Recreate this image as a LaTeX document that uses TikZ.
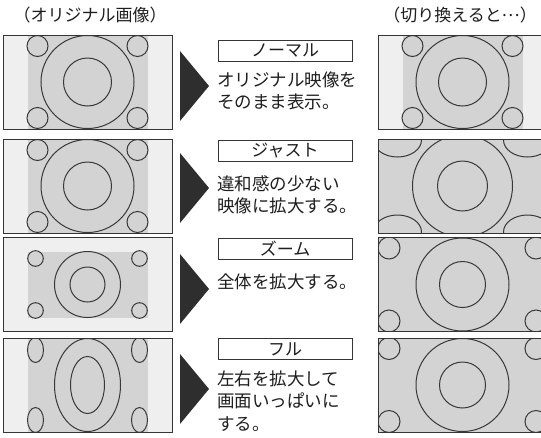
\documentclass[tikz,border=0pt]{standalone}
\usepackage{fontspec}
\setmainfont{Noto Sans CJK JP}
\definecolor{frameC}{HTML}{353535}
\definecolor{lineC}{HTML}{383838}
\definecolor{barC}{HTML}{EFEFEF}
\definecolor{grayC}{HTML}{D3D3D3}
\definecolor{arrowC}{HTML}{2E2E2E}
\definecolor{textC}{HTML}{1E1E1E}
% panel contents, relative to panel centre; half size 84.5 x 47
\newcommand\bgBars{\fill[barC] (-84.5,-47) rectangle (84.5,47);}
\newcommand\bgFull{\fill[grayC] (-84.5,-47) rectangle (84.5,47);}
\newcommand\contentNormal{%
  \bgBars
  \fill[grayC] (-60,-47) rectangle (60,47);
  \draw[shp] (0,0) circle[radius=46.5];
  \draw[shp] (0,0) circle[radius=24];
  \foreach \sx in {-1,1}{\foreach \sy in {-1,1}{
    \draw[shp] (\sx*50,\sy*36) circle[radius=10.5];}}}
\newcommand\contentLetter{%
  \bgBars
  \fill[grayC] (-60,-33) rectangle (60,33);
  \draw[shp] (0,0) circle[radius=33];
  \draw[shp] (0,0) circle[radius=17.5];
  \foreach \sx in {-1,1}{\foreach \sy in {-1,1}{
    \draw[shp] (\sx*52,\sy*26) circle[radius=7.8];}}}
\newcommand\contentSqueeze{%
  \bgBars
  \fill[grayC] (-60,-47) rectangle (60,47);
  \draw[shp] (0,0) ellipse[x radius=33,y radius=46.5];
  \draw[shp] (0,0) ellipse[x radius=17,y radius=28.5];
  \foreach \sx in {-1,1}{\foreach \sy in {-1,1}{
    \draw[shp] (\sx*52,\sy*35) ellipse[x radius=8,y radius=12.5];}}}
\newcommand\contentJust{%
  \bgFull
  \draw[shp] (0,0) ellipse[x radius=50,y radius=51];
  \draw[shp] (0,0) circle[radius=25];
  \foreach \sx in {-1,1}{\foreach \sy in {-1,1}{
    \draw[shp] (\sx*65,\sy*46) ellipse[x radius=24,y radius=17];}}}
\newcommand\contentWide{%
  \bgFull
  \draw[shp] (0,0) circle[radius=46.5];
  \draw[shp] (0,0) circle[radius=23];
  \foreach \sx in {-1,1}{\foreach \sy in {-1,1}{
    \draw[shp] (\sx*73.5,\sy*36.5) circle[radius=11];}}}
\newcommand\midellipsis{\raisebox{0.3em}{…}}
\begin{document}
\begin{tikzpicture}[x=1pt,y=-1pt,
  shp/.style={draw=lineC,line width=1pt},
  panel/.style={draw=frameC,line width=1pt,minimum width=169pt,minimum height=94pt,inner sep=0pt,outer sep=0pt},
  modebox/.style={draw=frameC,line width=0.8pt,minimum width=134pt,minimum height=21pt,inner sep=0pt,font=\fontsize{17}{18}\selectfont,text=textC},
  desc/.style={anchor=west,inner sep=0pt,font=\fontsize{17.5}{22.5}\selectfont,text=textC,align=left},
  head/.style={inner sep=0pt,font=\fontsize{17}{20}\selectfont,text=textC},
  tri/.style={fill=arrowC}]
\useasboundingbox (0,0) rectangle (541,437);
\fill[white] (0,0) rectangle (541,437);

% headers
\node[head] (hL) at (90,15) {（オリジナル画像）};
\node[head] (hR) at (460,15) {（切り換えると\midellipsis）};

% ---------- row 1 : normal ----------
\begin{scope}[shift={(87.5,82)}]\clip (-84.5,-47) rectangle (84.5,47);\contentNormal\end{scope}
\node[panel] (L1) at (87.5,82) {};
\begin{scope}[shift={(462.5,82)}]\clip (-84.5,-47) rectangle (84.5,47);\contentNormal\end{scope}
\node[panel] (R1) at (462.5,82) {};
% ---------- row 2 : just ----------
\begin{scope}[shift={(87.5,186)}]\clip (-84.5,-47) rectangle (84.5,47);\contentNormal\end{scope}
\node[panel] (L2) at (87.5,186) {};
\begin{scope}[shift={(462.5,186)}]\clip (-84.5,-47) rectangle (84.5,47);\contentJust\end{scope}
\node[panel] (R2) at (462.5,186) {};
% ---------- row 3 : zoom ----------
\begin{scope}[shift={(87.5,284.5)}]\clip (-84.5,-47) rectangle (84.5,47);\contentLetter\end{scope}
\node[panel] (L3) at (87.5,284.5) {};
\begin{scope}[shift={(462.5,284.5)}]\clip (-84.5,-47) rectangle (84.5,47);\contentWide\end{scope}
\node[panel] (R3) at (462.5,284.5) {};
% ---------- row 4 : full ----------
\begin{scope}[shift={(87.5,385)}]\clip (-84.5,-47) rectangle (84.5,47);\contentSqueeze\end{scope}
\node[panel] (L4) at (87.5,385) {};
\begin{scope}[shift={(462.5,385)}]\clip (-84.5,-47) rectangle (84.5,47);\contentWide\end{scope}
\node[panel] (R4) at (462.5,385) {};

% arrows (triangles)
\fill[tri] (180,51) -- (209,86) -- (180,121) -- cycle;
\fill[tri] (180,153) -- (209,188) -- (180,223) -- cycle;
\fill[tri] (180,254) -- (209,289) -- (180,324) -- cycle;
\fill[tri] (180,354) -- (209,389) -- (180,424) -- cycle;

% mode boxes and descriptions
\node[modebox] (m1) at (285,51) {ノーマル};
\node[desc] (d1) at (217,91) {オリジナル映像を\\そのまま表示。};
\node[modebox] (m2) at (285,151) {ジャスト};
\node[desc] (d2) at (217,195) {違和感の少ない\\映像に拡大する。};
\node[modebox] (m3) at (285,249) {ズーム};
\node[desc] (d3) at (217,282) {全体を拡大する。};
\node[modebox] (m4) at (285,349) {フル};
\node[desc] (d4) at (217,401) {左右を拡大して\\画面いっぱいに\\する。};
\end{tikzpicture}
\end{document}
